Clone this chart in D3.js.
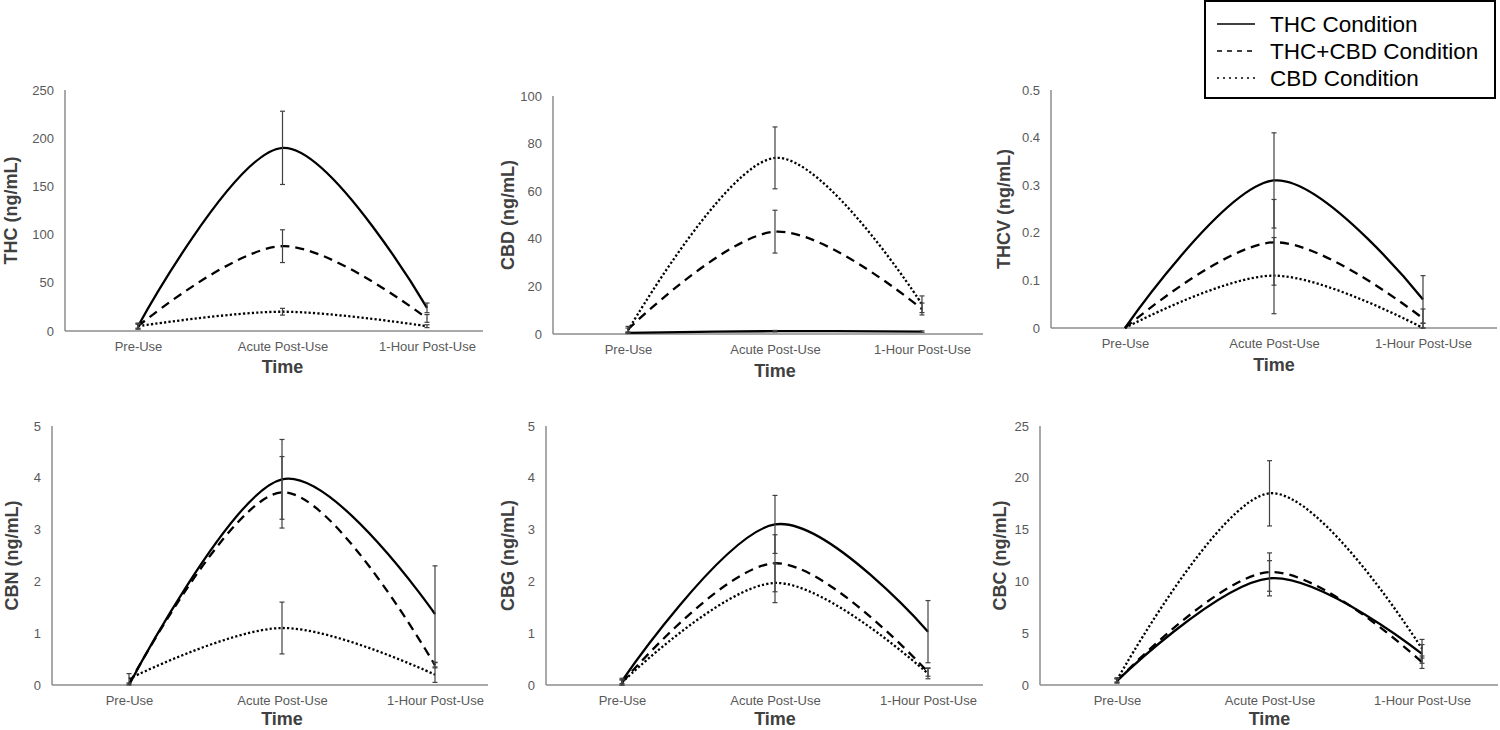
<!DOCTYPE html>
<html>
<head>
<meta charset="utf-8">
<script src="https://cdn.jsdelivr.net/npm/d3@7"></script>
<style>
  html, body { margin: 0; padding: 0; background: #ffffff; }
  svg { display: block; font-family: "Liberation Sans", Arial, sans-serif; }
</style>
</head>
<body>
<svg id="chart" width="1500" height="730"></svg>
<script>
// ---------- DATA ----------
const categories = ["Pre-Use", "Acute Post-Use", "1-Hour Post-Use"];
const seriesNames = ["THC Condition", "THC+CBD Condition", "CBD Condition"];

// each panel: [THC cond, THC+CBD cond, CBD cond]
const thcMeans  = [[5, 190, 24], [5, 88, 13], [5, 20, 5]];
const thcErrors = [[3, 38, 5], [3, 17, 4], [2, 3.5, 1.5]];
const thcTicks  = [0, 50, 100, 150, 200, 250];

const cbdMeans  = [[0.5, 1.2, 1.0], [2, 43, 10.5], [1.5, 74, 12.5]];
const cbdErrors = [[0.3, 0.3, 0.3], [1.2, 9, 2.5], [1, 13, 3.5]];
const cbdTicks  = [0, 20, 40, 60, 80, 100];

const thcvMeans  = [[0, 0.31, 0.06], [0, 0.18, 0.02], [0, 0.11, 0]];
const thcvErrors = [[0, 0.1, 0.05], [0, 0.09, 0.02], [0, 0.08, 0.01]];
const thcvTicks  = [0, 0.1, 0.2, 0.3, 0.4, 0.5];

const cbnMeans  = [[0, 3.97, 1.37], [0.02, 3.72, 0.38], [0.12, 1.1, 0.2]];
const cbnErrors = [[0, 0.77, 0.93], [0.02, 0.69, 0.05], [0.1, 0.5, 0.15]];
const cbnTicks  = [0, 1, 2, 3, 4, 5];

const cbgMeans  = [[0.08, 3.1, 1.03], [0.05, 2.35, 0.25], [0.05, 1.97, 0.22]];
const cbgErrors = [[0.05, 0.56, 0.6], [0.05, 0.55, 0.08], [0.05, 0.38, 0.1]];
const cbgTicks  = [0, 1, 2, 3, 4, 5];

const cbcMeans  = [[0.4, 10.3, 3.0], [0.4, 10.9, 2.2], [0.5, 18.5, 3.5]];
const cbcErrors = [[0.2, 1.7, 0.9], [0.2, 1.85, 0.6], [0.2, 3.15, 0.9]];
const cbcTicks  = [0, 5, 10, 15, 20, 25];

const panelTitles = ["THC (ng/mL)", "CBD (ng/mL)", "THCV (ng/mL)", "CBN (ng/mL)", "CBG (ng/mL)", "CBC (ng/mL)"];

// ---------- LAYOUT ----------
const layout = [
  { x0: 65,   x1: 483,  p0: 138,  p2: 427,  yTop: 90,  yZero: 331, titleDx: 54, timeDy: 42 },
  { x0: 553,  x1: 983,  p0: 628,  p2: 922,  yTop: 96,  yZero: 334, titleDx: 45, timeDy: 43 },
  { x0: 1051, x1: 1497, p0: 1125, p2: 1423, yTop: 90,  yZero: 328, titleDx: 47, timeDy: 43 },
  { x0: 52,   x1: 488,  p0: 129,  p2: 435,  yTop: 426, yZero: 685, titleDx: 40, timeDy: 40 },
  { x0: 546,  x1: 983,  p0: 622,  p2: 928,  yTop: 426, yZero: 685, titleDx: 38, timeDy: 40 },
  { x0: 1040, x1: 1498, p0: 1117, p2: 1422, yTop: 426, yZero: 685, titleDx: 40, timeDy: 40 }
];

const panels = [
  { means: thcMeans,  errors: thcErrors,  ticks: thcTicks },
  { means: cbdMeans,  errors: cbdErrors,  ticks: cbdTicks },
  { means: thcvMeans, errors: thcvErrors, ticks: thcvTicks },
  { means: cbnMeans,  errors: cbnErrors,  ticks: cbnTicks },
  { means: cbgMeans,  errors: cbgErrors,  ticks: cbgTicks },
  { means: cbcMeans,  errors: cbcErrors,  ticks: cbcTicks }
];

const dashes = [null, "9,6", "2.2,2.2"];
const legendDashes = [null, "5,5", "2,4"];
const lineWidths = [2.3, 2.3, 2.3];

const svg = d3.select("#chart");

panels.forEach((p, i) => {
  const L = layout[i];
  const g = svg.append("g");
  const x = d3.scalePoint().domain(categories).range([L.p0, L.p2]);
  const yMax = p.ticks[p.ticks.length - 1];
  const y = d3.scaleLinear().domain([0, yMax]).range([L.yZero, L.yTop]);

  // y axis (labels only, no ticks)
  const yAxis = d3.axisLeft(y).tickValues(p.ticks).tickSize(0).tickPadding(11)
    .tickFormat(d => String(+d.toFixed(2)));
  const ya = g.append("g").attr("transform", `translate(${L.x0},0)`).call(yAxis);
  ya.select(".domain").remove();
  ya.selectAll("text").attr("fill", "#595959").style("font-size", "13px")
    .style("font-family", "'Liberation Sans', Arial, sans-serif");

  // x axis labels
  const xAxis = d3.axisBottom(x).tickSize(0).tickPadding(11);
  const xa = g.append("g").attr("transform", `translate(0,${L.yZero})`).call(xAxis);
  xa.select(".domain").remove();
  xa.selectAll("text").attr("fill", "#595959").style("font-size", "13px")
    .style("font-family", "'Liberation Sans', Arial, sans-serif");

  // axis lines
  g.append("line").attr("x1", L.x0).attr("x2", L.x0).attr("y1", L.yTop).attr("y2", L.yZero)
    .attr("stroke", "#8c8c8c").attr("stroke-width", 1.5);
  g.append("line").attr("x1", L.x0).attr("x2", L.x1).attr("y1", L.yZero).attr("y2", L.yZero)
    .attr("stroke", "#8c8c8c").attr("stroke-width", 1.5);

  // titles
  g.append("text").attr("x", (L.p0 + L.p2) / 2)
    .attr("y", L.yZero + L.timeDy).attr("text-anchor", "middle")
    .attr("fill", "#404040").style("font-size", "18px").style("font-weight", "bold")
    .text("Time");
  g.append("text")
    .attr("transform", `translate(${L.x0 - L.titleDx},${(L.yTop + L.yZero) / 2}) rotate(-90)`)
    .attr("text-anchor", "middle").attr("dominant-baseline", "central")
    .attr("fill", "#404040").style("font-size", "18px").style("font-weight", "bold")
    .text(panelTitles[i]);

  // lines
  const line = d3.line().x((d, j) => x(categories[j])).y(d => y(d)).curve(d3.curveCatmullRom.alpha(0));
  p.means.forEach((s, k) => {
    g.append("path").attr("d", line(s)).attr("fill", "none").attr("stroke", "#000")
      .attr("stroke-width", lineWidths[k])
      .attr("stroke-dasharray", dashes[k]);
  });

  // error bars
  p.means.forEach((s, k) => {
    s.forEach((v, j) => {
      const e = p.errors[k][j];
      if (!e) return;
      const cx = x(categories[j]);
      const lo = Math.max(0, v - e), hi = v + e;
      g.append("line").attr("x1", cx).attr("x2", cx).attr("y1", y(lo)).attr("y2", y(hi))
        .attr("stroke", "#404040").attr("stroke-width", 1.2);
      [lo, hi].forEach(val => {
        g.append("line").attr("x1", cx - 2.5).attr("x2", cx + 2.5).attr("y1", y(val)).attr("y2", y(val))
          .attr("stroke", "#404040").attr("stroke-width", 1.2);
      });
    });
  });
});

// ---------- LEGEND ----------
const lg = svg.append("g");
lg.append("rect").attr("x", 1205).attr("y", 1).attr("width", 290).attr("height", 97)
  .attr("fill", "#fff").attr("stroke", "#000").attr("stroke-width", 2);
seriesNames.forEach((name, k) => {
  const cy = 24 + k * 27;
  lg.append("line").attr("x1", 1217).attr("x2", 1255).attr("y1", cy).attr("y2", cy)
    .attr("stroke", "#000").attr("stroke-width", 1.4).attr("stroke-dasharray", legendDashes[k]);
  lg.append("text").attr("x", 1270).attr("y", cy).attr("dominant-baseline", "central")
    .attr("fill", "#000").style("font-size", "22.5px").text(name);
});
</script>
</body>
</html>
